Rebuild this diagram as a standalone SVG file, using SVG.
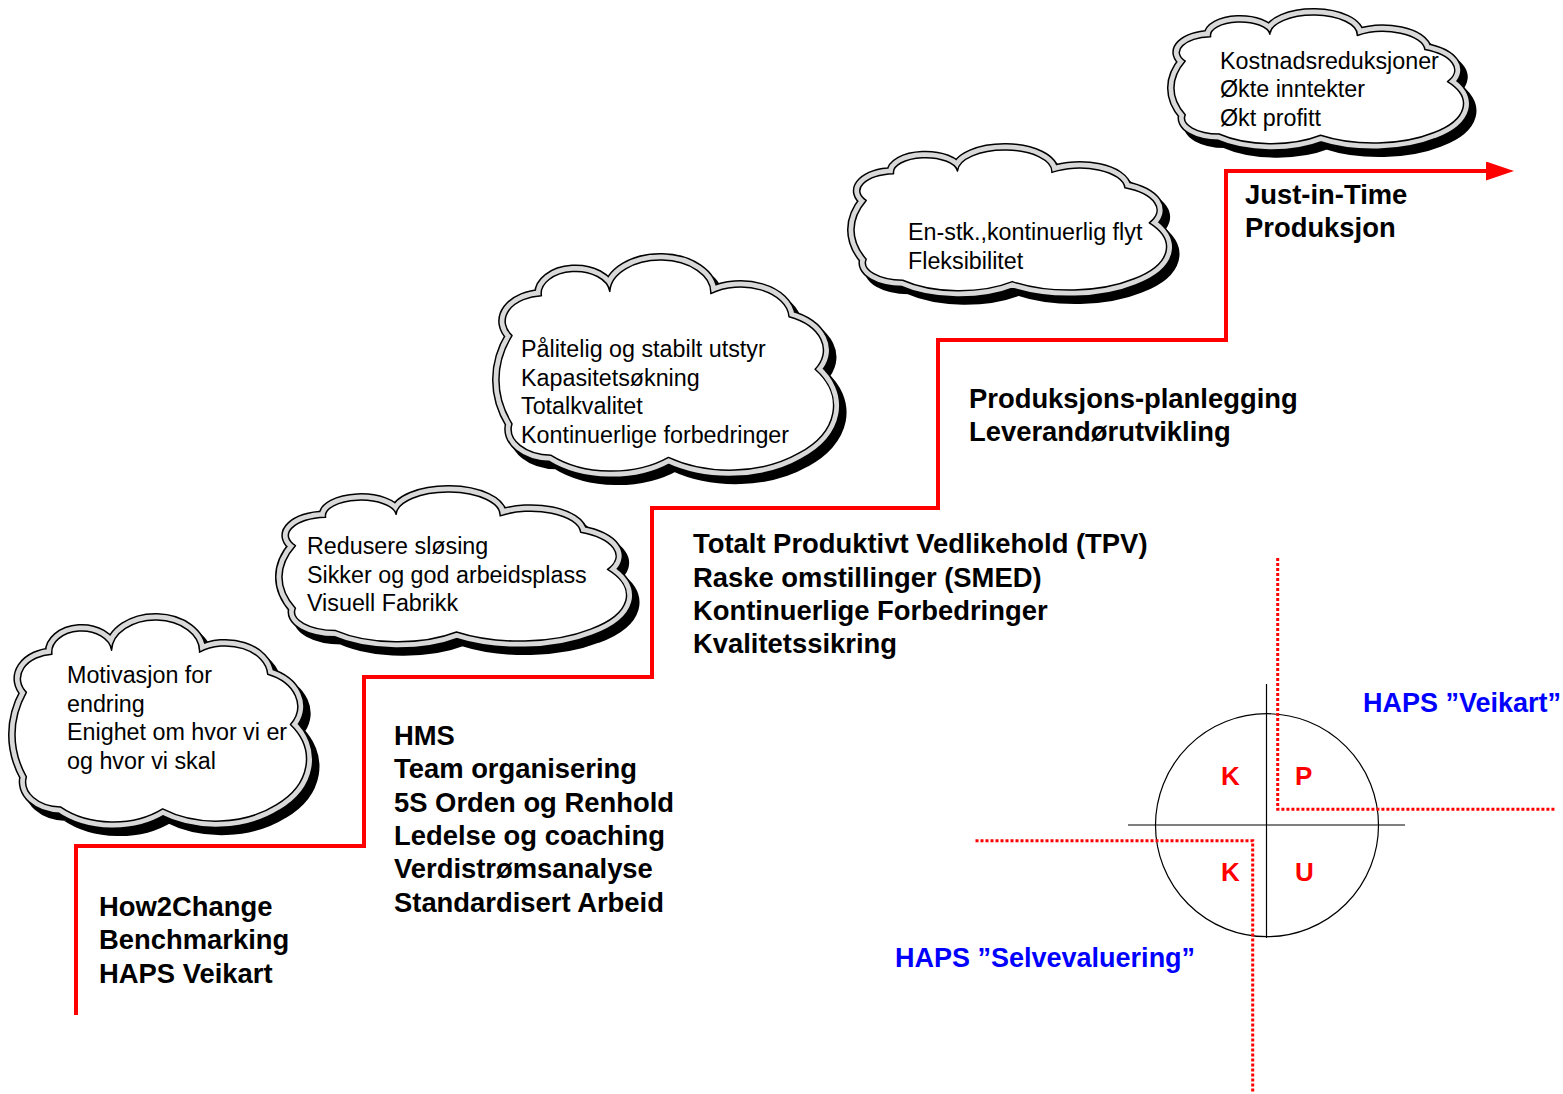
<svg xmlns="http://www.w3.org/2000/svg" xmlns:xlink="http://www.w3.org/1999/xlink" width="1563" height="1094" viewBox="0 0 1563 1094">
<style>
  .shadow { fill: #000; stroke: #000; stroke-width: 14; }
  .outer { fill: none; stroke: #000; stroke-width: 14; }
  .band { fill: none; stroke: #d9d9d9; stroke-width: 11; }
  .inner { fill: #fff; stroke: #000; stroke-width: 1.5; }
  .ct { font-family: "Liberation Sans", Arial, sans-serif; font-size: 23.3px; fill: #000; }
  .bt { font-family: "Liberation Sans", Arial, sans-serif; font-size: 27.4px; font-weight: bold; fill: #000; }
  .blue { font-family: "Liberation Sans", Arial, sans-serif; font-size: 27px; font-weight: bold; fill: #0000ff; }
  .red { font-family: "Liberation Sans", Arial, sans-serif; font-size: 26px; font-weight: bold; fill: #ff0000; }
  .stair { fill: none; stroke: #ff0000; stroke-width: 4; }
  .dot { fill: none; stroke: #ff0000; stroke-width: 3; stroke-dasharray: 3 2; }
  .thin { fill: none; stroke: #000; stroke-width: 1.2; }
</style>
<defs>
  <path id="cloudPath" vector-effect="non-scaling-stroke" stroke-linejoin="round" d="M2,36 A12.2,12.2 0 0 1 11,17 A10.5,10.5 0 0 1 32,15 A15.5,15.5 0 0 1 63,16 A14.9,14.9 0 0 1 87,27 A17.3,17.3 0 0 1 95,52 A29.4,29.4 0 0 1 90,92 A32,32 0 0 1 50,94 A26.6,26.6 0 0 1 14,93 A12.5,12.5 0 0 1 2,78 A57,57 0 0 1 2,36 Z"/>
  <marker id="arrow" markerWidth="28" markerHeight="19" refX="0" refY="9.5" orient="auto" markerUnits="userSpaceOnUse">
    <path d="M0,0 L28,9.5 L0,19 Z" fill="#ff0000"/>
  </marker>
</defs>

<g id="connectors">
  <path class="stair" d="M76,1015 V846 H364 V677 H652 V508 H938 V340 H1226 V171 H1486" marker-end="url(#arrow)"/>
</g>

<g id="cloud1">
  <use href="#cloudPath" class="shadow" transform="translate(26.7,627) scale(2.839,2.01)"/>
  <use href="#cloudPath" class="outer" transform="translate(20.7,620) scale(2.839,2.01)"/>
  <use href="#cloudPath" class="band" transform="translate(20.7,620) scale(2.839,2.01)"/>
  <use href="#cloudPath" class="inner" transform="translate(20.7,620) scale(2.839,2.01)"/>
  <text class="ct" x="67" y="683">Motivasjon for</text>
  <text class="ct" x="67" y="711.5">endring</text>
  <text class="ct" x="67" y="740">Enighet om hvor vi er</text>
  <text class="ct" x="67" y="768.5">og hvor vi skal</text>
</g>

<g id="cloud2">
  <use href="#cloudPath" class="shadow" transform="translate(294.7,499) scale(3.356,1.49)"/>
  <use href="#cloudPath" class="outer" transform="translate(288.7,492) scale(3.356,1.49)"/>
  <use href="#cloudPath" class="band" transform="translate(288.7,492) scale(3.356,1.49)"/>
  <use href="#cloudPath" class="inner" transform="translate(288.7,492) scale(3.356,1.49)"/>
  <text class="ct" x="307" y="554">Redusere sløsing</text>
  <text class="ct" x="307" y="582.5">Sikker og god arbeidsplass</text>
  <text class="ct" x="307" y="611">Visuell Fabrikk</text>
</g>

<g id="cloud3">
  <use href="#cloudPath" class="shadow" transform="translate(511.5,267) scale(3.259,2.10)"/>
  <use href="#cloudPath" class="outer" transform="translate(505.5,260) scale(3.259,2.10)"/>
  <use href="#cloudPath" class="band" transform="translate(505.5,260) scale(3.259,2.10)"/>
  <use href="#cloudPath" class="inner" transform="translate(505.5,260) scale(3.259,2.10)"/>
  <text class="ct" x="521" y="357">Pålitelig og stabilt utstyr</text>
  <text class="ct" x="521" y="385.5">Kapasitetsøkning</text>
  <text class="ct" x="521" y="414">Totalkvalitet</text>
  <text class="ct" x="521" y="442.5">Kontinuerlige forbedringer</text>
</g>

<g id="cloud4">
  <use href="#cloudPath" class="shadow" transform="translate(866.1,157) scale(3.044,1.40)"/>
  <use href="#cloudPath" class="outer" transform="translate(860.1,150) scale(3.044,1.40)"/>
  <use href="#cloudPath" class="band" transform="translate(860.1,150) scale(3.044,1.40)"/>
  <use href="#cloudPath" class="inner" transform="translate(860.1,150) scale(3.044,1.40)"/>
  <text class="ct" x="908" y="240">En-stk.,kontinuerlig flyt</text>
  <text class="ct" x="908" y="268.5">Fleksibilitet</text>
</g>

<g id="cloud5">
  <use href="#cloudPath" class="shadow" transform="translate(1185.6,22) scale(2.82,1.28)"/>
  <use href="#cloudPath" class="outer" transform="translate(1179.6,15) scale(2.82,1.28)"/>
  <use href="#cloudPath" class="band" transform="translate(1179.6,15) scale(2.82,1.28)"/>
  <use href="#cloudPath" class="inner" transform="translate(1179.6,15) scale(2.82,1.28)"/>
  <text class="ct" x="1220" y="68.5">Kostnadsreduksjoner</text>
  <text class="ct" x="1220" y="97">Økte inntekter</text>
  <text class="ct" x="1220" y="125.5">Økt profitt</text>
</g>

<g id="step1">
  <text class="bt" x="99" y="916">How2Change</text>
  <text class="bt" x="99" y="949.3">Benchmarking</text>
  <text class="bt" x="99" y="982.6">HAPS Veikart</text>
</g>

<g id="step2">
  <text class="bt" x="394" y="745">HMS</text>
  <text class="bt" x="394" y="778.3">Team organisering</text>
  <text class="bt" x="394" y="811.6">5S Orden og Renhold</text>
  <text class="bt" x="394" y="844.9">Ledelse og coaching</text>
  <text class="bt" x="394" y="878.2">Verdistrømsanalyse</text>
  <text class="bt" x="394" y="911.5">Standardisert Arbeid</text>
</g>

<g id="step3">
  <text class="bt" x="693" y="553.3">Totalt Produktivt Vedlikehold (TPV)</text>
  <text class="bt" x="693" y="586.6">Raske omstillinger (SMED)</text>
  <text class="bt" x="693" y="619.9">Kontinuerlige Forbedringer</text>
  <text class="bt" x="693" y="653.2">Kvalitetssikring</text>
</g>

<g id="step4">
  <text class="bt" x="969" y="408">Produksjons-planlegging</text>
  <text class="bt" x="969" y="441.3">Leverandørutvikling</text>
</g>

<g id="step5">
  <text class="bt" x="1245" y="204">Just-in-Time</text>
  <text class="bt" x="1245" y="237.3">Produksjon</text>
</g>

<g id="kpku">
  <circle class="thin" cx="1267" cy="825.2" r="111.5"/>
  <line class="thin" x1="1266.5" y1="684" x2="1266.5" y2="938"/>
  <line class="thin" x1="1128" y1="825" x2="1405" y2="825"/>
  <text class="red" x="1221" y="785">K</text>
  <text class="red" x="1295" y="785">P</text>
  <text class="red" x="1221" y="881">K</text>
  <text class="red" x="1295" y="881">U</text>
  <polyline class="dot" points="1277.7,558 1277.7,809.3 1555,809.3"/>
  <polyline class="dot" points="975.5,840.7 1252.7,840.7 1252.7,1092"/>
</g>

<g id="labels">
  <text class="blue" x="1363" y="712.3">HAPS ”Veikart”</text>
  <text class="blue" x="895" y="966.7">HAPS ”Selvevaluering”</text>
</g>
</svg>
